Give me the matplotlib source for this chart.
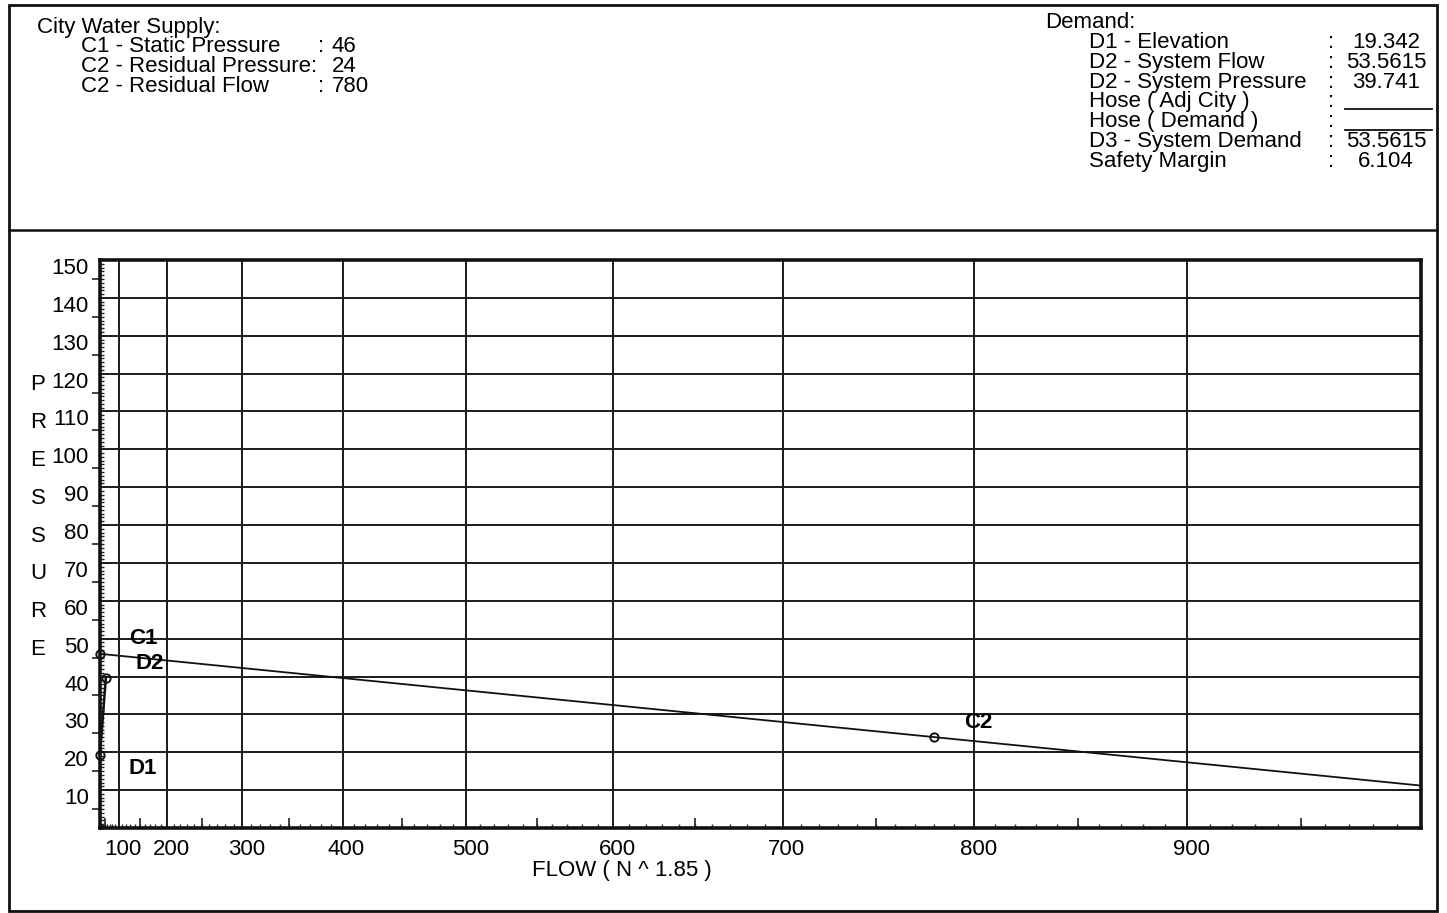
import numpy as np
import matplotlib
matplotlib.use('Agg')
import matplotlib.pyplot as plt
from matplotlib import transforms
from matplotlib.lines import Line2D
from matplotlib.patches import Rectangle
from matplotlib.ticker import FixedLocator, MultipleLocator

plt.rcParams['font.family'] = ['Liberation Sans', 'DejaVu Sans']

# supply curve: static point, residual point, end of the graph
supply_flow = [0, 780, 1000]
supply_pressure = [46, 24, 11.2]
# demand curve: elevation point to system demand point
demand_flow = [0, 53.5615]
demand_pressure = [19.342, 39.741]

point_names = ['C1', 'C2', 'D1', 'D2']
point_flow = [0, 780, 0, 53.5615]
point_pressure = [46, 24, 19.342, 39.741]
label_offsets = [(43, 15), (44, 15), (43, -14), (44, 14)]

x_ticks = [100, 200, 300, 400, 500, 600, 700, 800, 900]
y_ticks = [10, 20, 30, 40, 50, 60, 70, 80, 90, 100, 110, 120, 130, 140, 150]
x_half_ticks = [50, 150, 250, 350, 450, 550, 650, 750, 850, 950]
y_half_ticks = [5, 15, 25, 35, 45, 55, 65, 75, 85, 95, 105, 115, 125, 135, 145]
y_title = list('PRESSURE')
y_title_at = [120, 110, 100, 90, 80, 70, 60, 50]

supply_lines = [('C1 - Static Pressure', ':', '46'),
                ('C2 - Residual Pressure:', '', '24'),
                ('C2 - Residual Flow', ':', '780')]
demand_lines = [('D1 - Elevation', '19.342'),
                ('D2 - System Flow', '53.5615'),
                ('D2 - System Pressure', '39.741'),
                ('Hose ( Adj City )', ''),
                ('Hose ( Demand )', ''),
                ('D3 - System Demand', '53.5615'),
                ('Safety Margin', '6.104')]

W, H = 1447, 913
FS = 16


def fx(x):
    return x / W


def fy(y):
    return 1 - y / H


def fwd(q):
    q = np.asarray(q, dtype=float)
    return np.sign(q) * np.abs(q) ** 1.85


def inv(v):
    v = np.asarray(v, dtype=float)
    return np.sign(v) * np.abs(v) ** (1 / 1.85)


fig = plt.figure(figsize=(W / 100, H / 100), dpi=100)

# outer border and header separator
fig.add_artist(Rectangle((fx(9), fy(911)), fx(1437) - fx(9), fy(5) - fy(911),
                         transform=fig.transFigure, fill=False, lw=2, ec='#111111'))
fig.add_artist(Line2D([fx(9), fx(1437)], [fy(230), fy(230)],
                      transform=fig.transFigure, lw=1.8, color='#111111'))

# header: city water supply
fig.text(fx(37), fy(33), 'City Water Supply:', fontsize=FS, va='baseline')
for i, (name, colon, val) in enumerate(supply_lines):
    yb = 52 + 20 * i
    fig.text(fx(81), fy(yb), name, fontsize=FS, va='baseline')
    if colon:
        fig.text(fx(318), fy(yb), colon, fontsize=FS, va='baseline')
    fig.text(fx(332), fy(yb), val, fontsize=FS, va='baseline')

# header: demand
fig.text(fx(1045), fy(28), 'Demand:', fontsize=FS, va='baseline')
for i, (name, val) in enumerate(demand_lines):
    yb = 48 + 19.8 * i
    fig.text(fx(1089), fy(yb), name, fontsize=FS, va='baseline')
    fig.text(fx(1328), fy(yb), ':', fontsize=FS, va='baseline')
    if val:
        fig.text(fx(1386), fy(yb), val, fontsize=FS, va='baseline', ha='center')
for yl in [109, 130]:
    fig.add_artist(Line2D([fx(1345), fx(1432)], [fy(yl), fy(yl)],
                          transform=fig.transFigure, lw=1.3, color='#111111'))

# graph
ax = fig.add_axes([fx(100), fy(828), fx(1421) - fx(100), fy(260) - fy(828)])
ax.set_xscale('function', functions=(fwd, inv))
ax.set_xlim(0, 1000)
ax.set_ylim(0, 150)

ax.xaxis.set_major_locator(FixedLocator(x_ticks))
ax.set_xticklabels([str(t) for t in x_ticks])
ax.xaxis.set_minor_locator(MultipleLocator(10))
ax.yaxis.set_major_locator(FixedLocator(y_ticks))
ax.set_yticklabels([str(t) for t in y_ticks])
ax.yaxis.set_minor_locator(MultipleLocator(1))

ax.tick_params(which='major', length=0, labelsize=FS, pad=8)
ax.tick_params(axis='y', which='major', pad=8)
ax.tick_params(which='minor', direction='in', length=3, width=1, color='#222222')
ax.grid(True, which='major', color='#1a1a1a', lw=1.4)
for s in ax.spines.values():
    s.set_linewidth(2.6)
    s.set_color('#111111')

# longer ticks at the halfway marks
ax.plot(x_half_ticks, [0] * len(x_half_ticks), ls='none', marker=2,
        ms=7, mew=1.2, color='#222222', clip_on=False)
ax.plot([0] * len(y_half_ticks), y_half_ticks, ls='none', marker=0,
        ms=6, mew=1.2, color='#222222', clip_on=False)

# shift tick labels a little like the original printout
dx = transforms.ScaledTranslation(4 / 100, 0, fig.dpi_scale_trans)
for lbl in ax.get_xticklabels():
    lbl.set_transform(lbl.get_transform() + dx)
dy = transforms.ScaledTranslation(0, -6 / 100, fig.dpi_scale_trans)
for lbl in ax.get_yticklabels():
    lbl.set_transform(lbl.get_transform() + dy)

# vertical axis title, one letter per row
tr = transforms.blended_transform_factory(ax.transAxes, ax.transData)
tr = tr + transforms.ScaledTranslation(0, -11 / 100, fig.dpi_scale_trans)
for letter, v in zip(y_title, y_title_at):
    ax.text(-0.047, v, letter, transform=tr, fontsize=FS, ha='center', va='center')

fig.text(fx(622), fy(870), 'FLOW ( N ^ 1.85 )', fontsize=FS, ha='center', va='center')

# curves
ax.plot(supply_flow, supply_pressure, color='#111111', lw=1.3, clip_on=False, zorder=3)
ax.plot(demand_flow, demand_pressure, color='#111111', lw=1.8, clip_on=False, zorder=3)
ax.plot(point_flow, point_pressure, ls='none', marker='o', ms=6, mfc='none',
        mec='#111111', mew=1.4, clip_on=False, zorder=4)
for name, q, p, off in zip(point_names, point_flow, point_pressure, label_offsets):
    ax.annotate(name, (q, p), xytext=off, textcoords='offset pixels',
                fontsize=FS, fontweight='bold', ha='center', va='center')

fig.savefig('out.png', dpi=100)
